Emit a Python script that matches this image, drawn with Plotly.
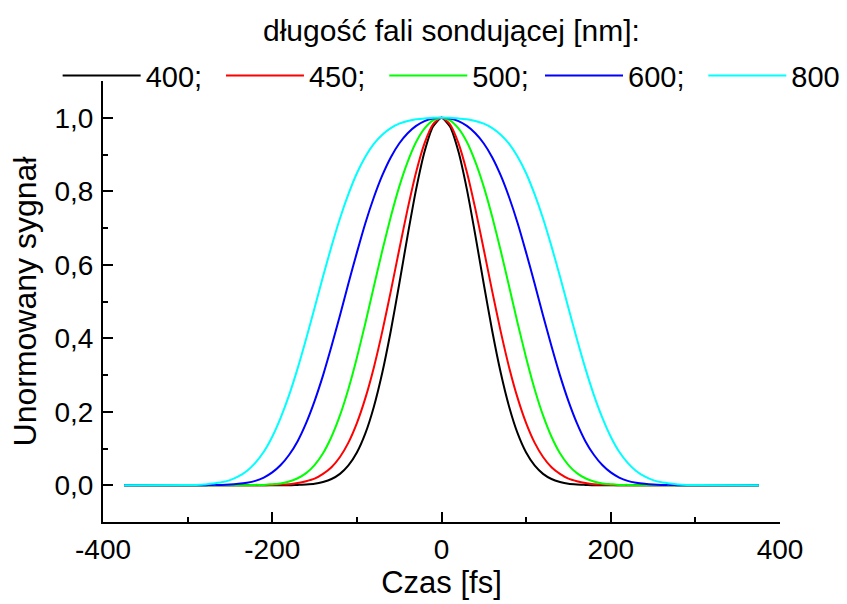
import plotly.graph_objects as go

# Time axis [fs]
czas = [-375, -300, -290, -280, -270, -260, -250, -240, -230, -220, -210, -200,
        -190, -180, -170, -160, -150, -140, -130, -120, -110, -100, -90, -80,
        -70, -60, -50, -40, -30, -20, -10, 0, 10, 20, 30, 40, 50, 60, 70, 80,
        90, 100, 110, 120, 130, 140, 150, 160, 170, 180, 190, 200, 210, 220,
        230, 240, 250, 260, 270, 280, 290, 300, 375]

# Normalised signal for each probe wavelength
s400 = [0, 0, 0, 0, 0, 0, 0, 0, 0, 0, 0, 0, 0, 0, 0.001, 0.002, 0.004, 0.009,
        0.017, 0.031, 0.054, 0.089, 0.141, 0.213, 0.306, 0.419, 0.547, 0.680,
        0.805, 0.908, 0.976, 1.000, 0.976, 0.908, 0.805, 0.680, 0.547, 0.419,
        0.306, 0.213, 0.141, 0.089, 0.054, 0.031, 0.017, 0.009, 0.004, 0.002,
        0.001, 0, 0, 0, 0, 0, 0, 0, 0, 0, 0, 0, 0, 0, 0]
s450 = [0, 0, 0, 0, 0, 0, 0, 0, 0, 0, 0, 0.001, 0.002, 0.003, 0.006, 0.011,
        0.018, 0.031, 0.049, 0.077, 0.116, 0.169, 0.237, 0.320, 0.418, 0.527,
        0.641, 0.752, 0.852, 0.931, 0.982, 1.000, 0.982, 0.931, 0.852, 0.752,
        0.641, 0.527, 0.418, 0.320, 0.237, 0.169, 0.116, 0.077, 0.049, 0.031,
        0.018, 0.011, 0.006, 0.003, 0.002, 0.001, 0, 0, 0, 0, 0, 0, 0, 0, 0,
        0, 0]
s500 = [0, 0, 0, 0, 0, 0, 0, 0, 0, 0.001, 0.001, 0.003, 0.005, 0.010, 0.019,
        0.033, 0.055, 0.087, 0.132, 0.190, 0.262, 0.347, 0.441, 0.540, 0.638,
        0.730, 0.812, 0.880, 0.934, 0.971, 0.993, 1.000, 0.993, 0.971, 0.934,
        0.880, 0.812, 0.730, 0.638, 0.540, 0.441, 0.347, 0.262, 0.190, 0.132,
        0.087, 0.055, 0.033, 0.019, 0.010, 0.005, 0.003, 0.001, 0.001, 0, 0,
        0, 0, 0, 0, 0, 0, 0]
s600 = [0, 0, 0, 0, 0.001, 0.001, 0.002, 0.004, 0.007, 0.012, 0.021, 0.035,
        0.055, 0.083, 0.120, 0.169, 0.229, 0.299, 0.378, 0.462, 0.549, 0.633,
        0.713, 0.783, 0.843, 0.892, 0.930, 0.958, 0.978, 0.991, 0.998, 1.000,
        0.998, 0.991, 0.978, 0.958, 0.930, 0.892, 0.843, 0.783, 0.713, 0.633,
        0.549, 0.462, 0.378, 0.299, 0.229, 0.169, 0.120, 0.083, 0.055, 0.035,
        0.021, 0.012, 0.007, 0.004, 0.002, 0.001, 0.001, 0, 0, 0, 0]
s800 = [0, 0.001, 0.001, 0.002, 0.005, 0.008, 0.014, 0.024, 0.039, 0.061,
        0.091, 0.132, 0.184, 0.246, 0.318, 0.398, 0.482, 0.568, 0.650, 0.726,
        0.792, 0.849, 0.894, 0.929, 0.954, 0.972, 0.984, 0.991, 0.996, 0.998,
        1.000, 1.000, 1.000, 0.998, 0.996, 0.991, 0.984, 0.972, 0.954, 0.929,
        0.894, 0.849, 0.792, 0.726, 0.650, 0.568, 0.482, 0.398, 0.318, 0.246,
        0.184, 0.132, 0.091, 0.061, 0.039, 0.024, 0.014, 0.008, 0.005, 0.002,
        0.001, 0.001, 0]

PAD = "\u00a0\u2009"
series = [("400;" + PAD, s400, "#000000", "legend"),
          ("450;" + PAD, s450, "#ff0000", "legend"),
          ("500;" + PAD, s500, "#00ff00", "legend"),
          ("600;" + PAD, s600, "#0000ff", "legend2"),
          ("800", s800, "#00ffff", "legend2")]

x_ticks = [-400, -200, 0, 200, 400]
x_labels = ["-400", "-200", "0", "200", "400"]
y_ticks = [0.0, 0.2, 0.4, 0.6, 0.8, 1.0]
y_labels = ["0,0", "0,2", "0,4", "0,6", "0,8", "1,0"]

FONT = "Liberation Sans, Arial, sans-serif"

fig = go.Figure()
for name, vals, col, lg in series:
    fig.add_trace(go.Scatter(x=czas, y=vals, mode="lines", name=name,
                             legend=lg,
                             line=dict(color=col, width=2, shape="spline",
                                       smoothing=0.6)))

legend_common = dict(orientation="h", xref="paper", yref="paper",
                     xanchor="left", y=1.012, yanchor="middle",
                     font=dict(size=29), entrywidth=0, itemwidth=78,
                     bgcolor="rgba(0,0,0,0)", tracegroupgap=0)

fig.update_layout(
    width=847, height=604,
    paper_bgcolor="white", plot_bgcolor="white",
    margin=dict(l=103, r=67, t=81, b=82, autoexpand=False),
    font=dict(family=FONT, size=28, color="black"),
    title=dict(text="długość fali sondującej [nm]:", xref="container",
               x=0.533, xanchor="center", yref="container", y=0.95,
               yanchor="middle", font=dict(size=30)),
    legend=dict(x=-0.067, **legend_common),
    legend2=dict(x=0.6455, **legend_common),
    showlegend=True,
)

fig.update_xaxes(range=[-400, 400], showgrid=False, zeroline=False,
                 showline=True, linecolor="black", linewidth=2,
                 ticks="inside", ticklen=10, tickwidth=1.5, tickcolor="black",
                 tickvals=x_ticks, ticktext=x_labels, ticklabelstandoff=1,
                 tickfont=dict(size=28),
                 minor=dict(dtick=100, tick0=0, ticks="inside", ticklen=5,
                            tickwidth=1.5, tickcolor="black", showgrid=False),
                 title=dict(text="Czas [fs]", standoff=4, font=dict(size=31)))
fig.update_yaxes(range=[-0.1, 1.1], showgrid=False, zeroline=False,
                 showline=True, linecolor="black", linewidth=2,
                 ticks="inside", ticklen=10, tickwidth=1.5, tickcolor="black",
                 tickvals=y_ticks, ticktext=y_labels, ticklabelstandoff=2,
                 tickfont=dict(size=28),
                 minor=dict(dtick=0.1, tick0=0, ticks="inside", ticklen=5,
                            tickwidth=1.5, tickcolor="black", showgrid=False),
                 title=dict(text="Unormowany sygnał", standoff=8,
                            font=dict(size=32)))

fig.write_html("out.html")
